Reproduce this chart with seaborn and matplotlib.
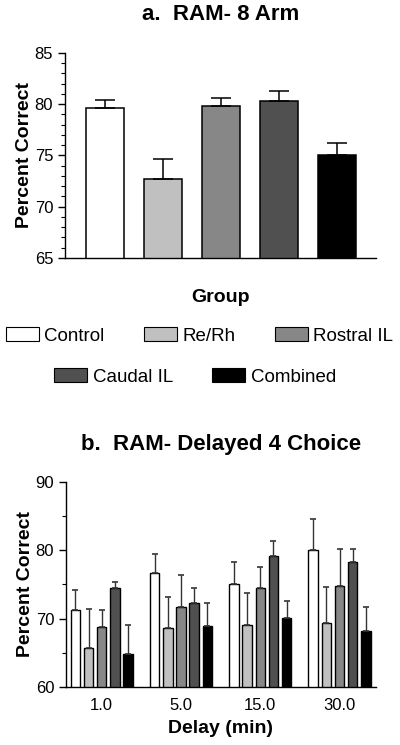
import numpy as np
import pandas as pd
import matplotlib
matplotlib.use("Agg")
import matplotlib.pyplot as plt
from matplotlib.patches import Patch
from matplotlib.ticker import MultipleLocator
import seaborn as sns

groups = ["Control", "Re/Rh", "Rostral IL", "Caudal IL", "Combined"]
colors = ["#ffffff", "#c0c0c0", "#878787", "#505050", "#000000"]

# panel a: RAM 8 arm
ram8_mean = [79.6, 72.7, 79.8, 80.3, 75.0]
ram8_sem = [0.8, 1.95, 0.8, 1.0, 1.25]

# panel b: delayed 4 choice
delays = ["1.0", "5.0", "15.0", "30.0"]
control_mean = [71.3, 76.6, 75.1, 80.0]
control_sem = [2.9, 2.8, 3.1, 4.5]
rerh_mean = [65.7, 68.6, 69.0, 69.3]
rerh_sem = [5.7, 4.5, 4.7, 5.3]
rostral_mean = [68.8, 71.65, 74.4, 74.7]
rostral_sem = [2.4, 4.65, 3.1, 5.5]
caudal_mean = [74.5, 72.2, 79.15, 78.2]
caudal_sem = [0.9, 2.2, 2.15, 2.0]
combined_mean = [64.8, 68.9, 70.1, 68.15]
combined_sem = [4.2, 3.3, 2.4, 3.5]

sns.set_style("ticks")
plt.rcParams["font.family"] = ["Liberation Sans", "DejaVu Sans"]
plt.rcParams["axes.linewidth"] = 1.0
for k in ["text.color", "axes.labelcolor", "xtick.color", "ytick.color", "axes.edgecolor"]:
    plt.rcParams[k] = "black"

fig = plt.figure(figsize=(4, 7.45), dpi=100)

# ---- panel a
ax1 = fig.add_axes([0.1625, 0.6537, 0.7775, 0.2752])
sns.barplot(x=groups, y=ram8_mean, hue=groups, hue_order=groups, palette=colors,
            width=0.66, edgecolor="black", linewidth=1.1, legend=False, ax=ax1)
xs = [p.get_x() + p.get_width() / 2 for p in ax1.patches]
ax1.errorbar(xs, ram8_mean, yerr=[np.zeros(len(ram8_sem)), ram8_sem], fmt="none",
             ecolor="black", elinewidth=1.1, capsize=7.5, capthick=1.1, zorder=1)
ax1.set_ylim(65, 85)
ax1.set_xlim(-0.69, 4.68)
ax1.yaxis.set_major_locator(MultipleLocator(5))
ax1.yaxis.set_minor_locator(MultipleLocator(1))
ax1.tick_params(axis="y", which="major", labelsize=12, length=5, width=1)
ax1.tick_params(axis="y", which="minor", length=3, width=0.8)
ax1.tick_params(axis="x", length=0, labelbottom=False)
ax1.set_ylabel("Percent Correct", fontsize=14, fontweight="bold", labelpad=1)
ax1.set_xlabel("Group", fontsize=14, fontweight="bold", labelpad=22)
ax1.set_title("a.  RAM- 8 Arm", fontsize=16, fontweight="bold", pad=24)
sns.despine(ax=ax1)

handles = [Patch(facecolor=c, edgecolor="black", linewidth=0.8) for c in colors]
leg_kw = dict(frameon=False, fontsize=13.5, handlelength=1.75, handleheight=0.7,
              handletextpad=0.3, columnspacing=2.1, borderpad=0, borderaxespad=0)
fig.legend(handles[:3], groups[:3], ncol=3, loc="center",
           bbox_to_anchor=(0.499, 0.549), **leg_kw)
fig.legend(handles[3:], groups[3:], ncol=2, loc="center",
           bbox_to_anchor=(0.4875, 0.494), **leg_kw)

# ---- panel b
means = [control_mean, rerh_mean, rostral_mean, caudal_mean, combined_mean]
sems = [control_sem, rerh_sem, rostral_sem, caudal_sem, combined_sem]
df = pd.DataFrame({
    "delay": np.tile(delays, len(groups)),
    "group": np.repeat(groups, len(delays)),
    "pct": np.concatenate(means),
    "sem": np.concatenate(sems),
})

ax2 = fig.add_axes([0.165, 0.0779, 0.775, 0.2755])
sns.barplot(data=df, x="delay", y="pct", hue="group", hue_order=groups, palette=colors,
            errorbar=None, width=0.83, gap=0.28, edgecolor="black", linewidth=1.0,
            legend=False, ax=ax2)
for cont, g in zip(ax2.containers, groups):
    sub = df[df.group == g]
    bx = [b.get_x() + b.get_width() / 2 for b in cont]
    ax2.errorbar(bx, sub.pct, yerr=[np.zeros(len(sub)), sub["sem"]], fmt="none",
                 ecolor="#333333", elinewidth=1.0, capsize=2.2, capthick=1.2, zorder=1)
ax2.set_ylim(60, 90)
ax2.set_xlim(-0.45, 3.46)
ax2.yaxis.set_major_locator(MultipleLocator(10))
ax2.yaxis.set_minor_locator(MultipleLocator(5))
ax2.tick_params(axis="y", which="major", labelsize=12, length=5, width=1)
ax2.tick_params(axis="y", which="minor", length=3, width=0.8)
ax2.tick_params(axis="x", length=0, labelsize=12, pad=8)
ax2.set_ylabel("Percent Correct", fontsize=14, fontweight="bold", labelpad=1)
ax2.set_xlabel("Delay (min)", fontsize=14, fontweight="bold", labelpad=5)
ax2.set_title("b.  RAM- Delayed 4 Choice", fontsize=16, fontweight="bold", pad=23)
sns.despine(ax=ax2)

fig.savefig("out.png", dpi=100)
